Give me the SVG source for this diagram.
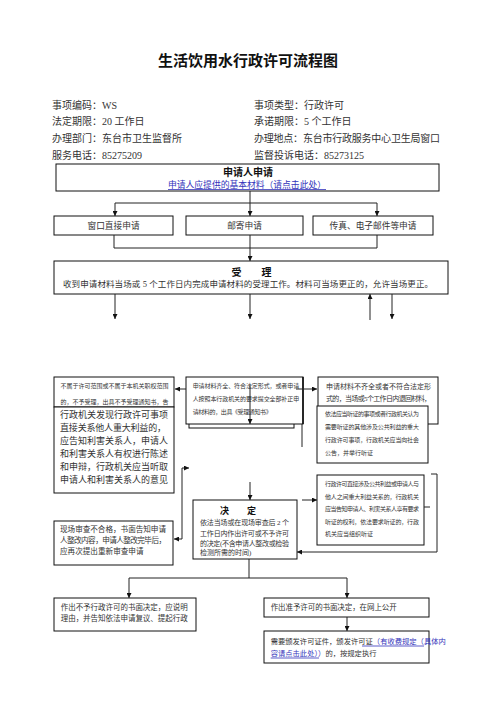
<svg xmlns="http://www.w3.org/2000/svg" width="496" height="702" viewBox="0 0 496 702">
<style>
text{font-family:"Liberation Serif","Noto Sans CJK SC",serif;fill:#333}
.t{font-family:"Noto Sans CJK SC",sans-serif;font-weight:bold;fill:#111}
.b{font-family:"Noto Sans CJK SC",sans-serif;font-weight:bold;fill:#111}
.box{fill:#fff;stroke:#111;stroke-width:1}
.ln{fill:none;stroke:#222;stroke-width:1}
.ar{fill:none;stroke:#222;stroke-width:1;marker-end:url(#ah)}
.lk{fill:#3333bb}
.ul{stroke:#3333bb;stroke-width:0.8}
</style>
<defs>
<marker id="ah" viewBox="0 0 10 10" refX="10" refY="5" markerWidth="5" markerHeight="5" orient="auto" markerUnits="userSpaceOnUse">
<path d="M0,0 L10,5 L0,10 z" fill="#111"/>
</marker>
</defs>
<rect width="496" height="702" fill="#fff"/>
<text class="t" x="248" y="66" font-size="15" text-anchor="middle">生活饮用水行政许可流程图</text>
<g id="info" font-size="10">
<text x="52" y="108.5">事项编码：WS</text>
<text x="52" y="124.5">法定期限：20 工作日</text>
<text x="52" y="141.5">办理部门：东台市卫生监督所</text>
<text x="52" y="158.5">服务电话：85275209</text>
<text x="254" y="108.5">事项类型：行政许可</text>
<text x="254" y="124.5">承诺期限：5 个工作日</text>
<text x="254" y="141.5" textLength="186" lengthAdjust="spacing">办理地点：东台市行政服务中心卫生局窗口</text>
<text x="254" y="158.5">监督投诉电话：85273125</text>
</g>
<g id="apply">
<rect class="box" x="56" y="164" width="383" height="27"/>
<text class="b" x="248" y="175.5" font-size="10" text-anchor="middle">申请人申请</text>
<text class="lk" x="168" y="187.5" font-size="8.8" textLength="158" lengthAdjust="spacing">申请人应提供的基本材料（请点击此处）</text>
<line class="ul" x1="168" y1="189.5" x2="326" y2="189.5"/>
</g>
<g id="window">
<rect class="box" x="54" y="216" width="119" height="19"/>
<text x="113.5" y="229" font-size="8.7" text-anchor="middle">窗口直接申请</text>
</g>
<g id="mail">
<rect class="box" x="186" y="216" width="117" height="19"/>
<text x="244.5" y="229" font-size="8.7" text-anchor="middle">邮寄申请</text>
</g>
<g id="fax">
<rect class="box" x="313" y="216" width="120" height="19"/>
<text x="373" y="229" font-size="8.7" text-anchor="middle">传真、电子邮件等申请</text>
</g>
<g id="accept">
<rect class="box" x="54" y="261" width="394" height="33"/>
<text class="b" x="251.5" y="275.8" font-size="10" text-anchor="middle">受　　理</text>
<text x="63" y="287.2" font-size="8.5" textLength="370" lengthAdjust="spacing">收到申请材料当场或 5 个工作日内完成申请材料的受理工作。材料可当场更正的，允许当场更正。</text>
</g>
<g id="reject">
<rect class="box" x="54" y="377" width="120" height="30"/>
<text x="60.5" y="388.3" font-size="6" textLength="108" lengthAdjust="spacing">不属于许可范围或不属于本机关职权范围</text>
<text x="60.5" y="403.8" font-size="6" textLength="108" lengthAdjust="spacing">的，不予受理，出具不予受理通知书，告</text>
</g>
<g id="notify">
<rect class="box" x="54" y="407" width="120" height="86"/>
<g font-size="9">
<text x="60" y="418.4" textLength="108" lengthAdjust="spacing">行政机关发现行政许可事项</text>
<text x="60" y="431.4" textLength="106" lengthAdjust="spacing">直接关系他人重大利益的，</text>
<text x="60" y="444.4" textLength="108" lengthAdjust="spacing">应告知利害关系人，申请人</text>
<text x="60" y="457.4" textLength="108" lengthAdjust="spacing">和利害关系人有权进行陈述</text>
<text x="60" y="470.4" textLength="108" lengthAdjust="spacing">和申辩，行政机关应当听取</text>
<text x="60" y="483.4" textLength="108" lengthAdjust="spacing">申请人和利害关系人的意见</text>
</g>
</g>
<g id="accepted">
<rect class="box" x="189" y="412" width="105" height="16"/>
<rect class="box" x="186" y="377" width="117" height="47"/>
<line x1="303" y1="377" x2="303" y2="424" stroke="#111" stroke-width="1.6"/>
<g font-size="6">
<text x="192.7" y="388.3" textLength="106.5" lengthAdjust="spacing">申请材料齐全、符合法定形式，或者申请</text>
<text x="192.7" y="401.3" textLength="106.5" lengthAdjust="spacing">人按照本行政机关的要求提交全部补正申</text>
<text x="192.7" y="414.3" textLength="79" lengthAdjust="spacing">请材料的，出具《受理通知书》</text>
</g>
</g>
<g id="correct">
<rect class="box" x="318" y="377" width="120" height="47"/>
<text x="326" y="388.7" font-size="7" textLength="105" lengthAdjust="spacing">申请材料不齐全或者不符合法定形</text>
<text x="326" y="400.7" font-size="7" textLength="105" lengthAdjust="spacing">式的，当场或5个工作日内退回材料，</text>
</g>
<g id="hearing-public">
<rect class="box" x="317" y="406" width="111" height="57"/>
<g font-size="6">
<text x="325" y="416.3" textLength="94" lengthAdjust="spacing">依法应当听证的事项或者行政机关认为</text>
<text x="325" y="429.3" textLength="94" lengthAdjust="spacing">需要听证的其他涉及公共利益的重大</text>
<text x="325" y="442.3" textLength="94" lengthAdjust="spacing">行政许可事项，行政机关应当向社会</text>
<text x="325" y="455.3">公告，并举行听证</text>
</g>
</g>
<g id="hearing-private">
<rect class="box" x="317" y="475" width="107" height="70"/>
<g font-size="6">
<text x="325" y="486.3" textLength="94" lengthAdjust="spacing">行政许可直接涉及公共利益或申请人与</text>
<text x="325" y="499" textLength="94" lengthAdjust="spacing">他人之间重大利益关系的，行政机关</text>
<text x="325" y="511.3" textLength="94" lengthAdjust="spacing">应当告知申请人、利害关系人享有要求</text>
<text x="325" y="524.3" textLength="94" lengthAdjust="spacing">听证的权利，依法要求听证的，行政</text>
<text x="325" y="536.3">机关应当组织听证</text>
</g>
</g>
<g id="onsite">
<rect class="box" x="54" y="521" width="119" height="44"/>
<g font-size="7.6">
<text x="60" y="532.4" textLength="106" lengthAdjust="spacing">现场审查不合格，书面告知申请</text>
<text x="60" y="543.4" textLength="106" lengthAdjust="spacing">人整改内容，申请人整改完毕后，</text>
<text x="60" y="554.4">应再次提出重新审查申请</text>
</g>
</g>
<g id="decide">
<rect class="box" x="193" y="500" width="104" height="59"/>
<text class="b" x="238" y="514" font-size="9" text-anchor="middle">决　　定</text>
<g font-size="7">
<text x="200" y="525" textLength="89" lengthAdjust="spacing">依法当场或在现场审查后 2 个</text>
<text x="200" y="536" textLength="89" lengthAdjust="spacing">工作日内作出许可或不予许可</text>
<text x="200" y="545.5" textLength="89" lengthAdjust="spacing">的决定(不含申请人整改或检验</text>
<text x="200" y="554.7">检测所需的时间)</text>
</g>
</g>
<g id="deny">
<rect class="box" x="54" y="598" width="142" height="33"/>
<text x="60.7" y="609.5" font-size="7.5" textLength="127" lengthAdjust="spacing">作出不予行政许可的书面决定，应说明</text>
<text x="60.7" y="621" font-size="7.5" textLength="127" lengthAdjust="spacing">理由，并告知依法申请复议、提起行政</text>
</g>
<g id="grant">
<rect class="box" x="264" y="598" width="165" height="19"/>
<text x="270.7" y="609.5" font-size="7.5" textLength="126" lengthAdjust="spacing">作出准予许可的书面决定，在网上公开</text>
</g>
<g id="license">
<rect class="box" x="264" y="631" width="165" height="32"/>
<text x="270.7" y="643.8" font-size="7.3"><tspan>需要颁发许可证件，颁发许可证</tspan><tspan class="lk">（有收费规定（具体内</tspan></text>
<line class="ul" x1="362" y1="646" x2="424" y2="646"/>
<text x="270.7" y="655.5" font-size="7.3"><tspan class="lk">容请点击此处））</tspan><tspan>的，按规定执行</tspan></text>
<line class="ul" x1="270.7" y1="658" x2="319" y2="658"/>
</g>
<g id="connectors">
<line class="ln" x1="250" y1="191" x2="250" y2="203"/>
<line class="ln" x1="115" y1="203" x2="377" y2="203"/>
<line class="ar" x1="115" y1="203" x2="115" y2="216"/>
<line class="ar" x1="250" y1="203" x2="250" y2="216"/>
<line class="ar" x1="377" y1="203" x2="377" y2="216"/>
<polyline class="ln" points="114,235 114,248 377,248 377,235"/>
<line class="ar" x1="250" y1="235" x2="250" y2="261"/>
<line class="ar" x1="115" y1="294" x2="115" y2="319"/>
<line class="ar" x1="250" y1="294" x2="250" y2="319"/>
<line class="ar" x1="370" y1="320" x2="370" y2="294"/>
<line class="ar" x1="392" y1="294" x2="392" y2="319"/>
<line class="ar" x1="186" y1="389" x2="175" y2="389"/>
<line class="ar" x1="296" y1="389" x2="317" y2="389"/>
<line class="ar" x1="250" y1="386" x2="250" y2="424"/>
<line class="ln" x1="302" y1="424" x2="302" y2="447"/>
<line class="ar" x1="250" y1="482" x2="250" y2="500"/>
<polyline class="ar" points="182,539 182,468 189,468"/>
<line class="ar" x1="182" y1="539" x2="174" y2="539"/>
<line class="ar" x1="302" y1="500" x2="317" y2="500"/>
<polyline class="ar" points="431,474 437,474 437,552 297,552"/>
<line class="ln" x1="424" y1="507" x2="430" y2="507"/>
<line class="ln" x1="249" y1="559" x2="249" y2="578"/>
<line class="ln" x1="129" y1="578" x2="347" y2="578"/>
<line class="ar" x1="129" y1="578" x2="129" y2="598"/>
<line class="ar" x1="347" y1="578" x2="347" y2="598"/>
<line class="ar" x1="347" y1="617" x2="347" y2="631"/>
</g>
</svg>
